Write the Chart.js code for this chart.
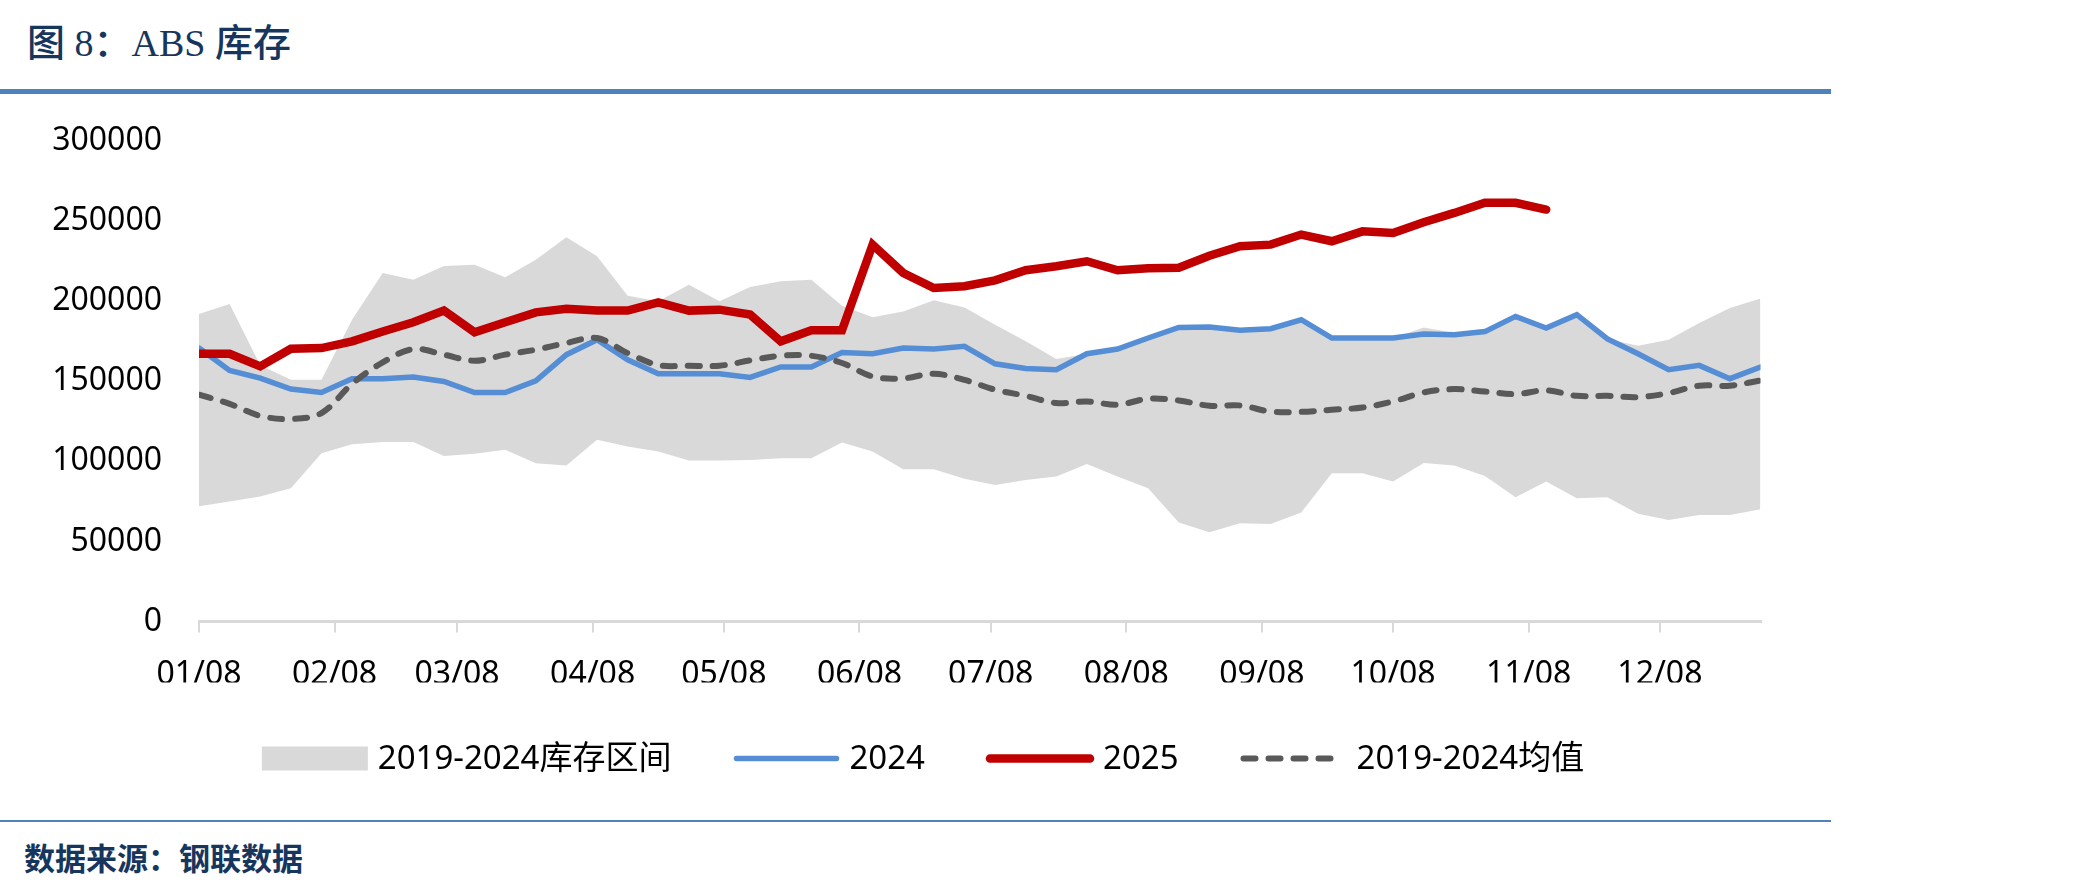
<!DOCTYPE html>
<html>
<head>
<meta charset="utf-8">
<script src="https://cdn.jsdelivr.net/npm/chart.js@4.4.1/dist/chart.umd.min.js"></script>
<style>
  body { margin: 0; background: #fff; width: 2083px; height: 888px; position: relative; overflow: hidden; }
  #title { position: absolute; left: 27px; top: 19px; font: 500 38px "Liberation Serif", "Noto Sans CJK SC"; color: #17365D; line-height: 48px; white-space: nowrap; }
  #topRule { position: absolute; left: 0; top: 89px; width: 1831px; height: 5px; background: #4F81BD; }
  #bottomRule { position: absolute; left: 0; top: 820px; width: 1831px; height: 2px; background: #4F81BD; }
  #source { position: absolute; left: 24px; top: 837px; font: bold 31px "Noto Sans CJK SC"; color: #17365D; line-height: 40px; white-space: nowrap; }
  #wrap { position: absolute; left: 0; top: 100px; width: 1800px; height: 715px; }
  #chart { display: block; }
</style>
</head>
<body>
<div id="title">图 8：ABS 库存</div>
<div id="topRule"></div>
<div id="wrap"><canvas id="chart" width="1800" height="715"></canvas></div>
<div id="bottomRule"></div>
<div id="source">数据来源：钢联数据</div>
<script>
// weekly dates (2025)
const weekDates = [
  '01-08','01-15','01-22','01-29','02-05','02-12','02-19','02-26',
  '03-05','03-12','03-19','03-26','04-02','04-09','04-16','04-23','04-30',
  '05-07','05-14','05-21','05-28','06-04','06-11','06-18','06-25',
  '07-02','07-09','07-16','07-23','07-30','08-06','08-13','08-20','08-27',
  '09-03','09-10','09-17','09-24','10-01','10-08','10-15','10-22','10-29',
  '11-05','11-12','11-19','11-26','12-03','12-10','12-17','12-24','12-31'
];
const tickLabels = ['01/08','02/08','03/08','04/08','05/08','06/08','07/08','08/08','09/08','10/08','11/08','12/08'];

// 2019-2024 range
const rangeLow = [
  72000, 74900, 78000, 83200, 105100, 110700, 112000, 112000, 103400, 104700,
  107200, 98800, 97400, 113400, 109300, 106100, 100500, 100500, 100900, 102000,
  102000, 111800, 106100, 95100, 95100, 89200, 85300, 88400, 90500, 98400,
  90500, 83200, 61800, 55700, 61400, 60900, 68000, 92600, 92600, 87400,
  98900, 97400, 90900, 77600, 87400, 77000, 77600, 67200, 63400, 66500,
  66500, 70100
];
const rangeHigh = [
  192000, 198200, 160000, 150900, 150900, 188400, 217600, 213400, 222000, 222800,
  214900, 225900, 239900, 228000, 203400, 200000, 210300, 199900, 208900, 212400,
  213400, 197200, 189900, 193600, 200500, 196000, 185300, 174900, 163900, 167200,
  170100, 177000, 183600, 183900, 181800, 182800, 188400, 177000, 177000, 177000,
  183600, 180100, 181000, 190500, 183200, 191600, 176400, 172200, 175900, 186400,
  195700, 201600
];
const inv2024 = [
  170700, 156800, 152000, 145100, 143000, 151600, 151600, 152600, 149900, 143000,
  143000, 150300, 166600, 175900, 163400, 154700, 154700, 154700, 152400, 158900,
  158900, 168000, 167200, 170700, 170100, 171800, 160900, 158000, 157200, 167200,
  170100, 177000, 183600, 183900, 181800, 182800, 188400, 177000, 177000, 177000,
  179500, 179100, 181000, 190500, 183200, 191600, 176400, 167200, 157200, 159900,
  151600, 158900
];
const inv2025 = [
  167200, 167200, 159300, 170300, 170700, 174900, 181100, 186800, 194100, 180600,
  186800, 193000, 195300, 194100, 194100, 199300, 194100, 194700, 191600, 174900,
  181800, 181800, 235300, 217600, 208200, 209300, 213000, 219300, 221800, 224900,
  219300, 220500, 220900, 228400, 234300, 235300, 241600, 237400, 243600, 242600,
  249300, 255100, 261400, 261400, 257200
];
const avg2019to2024 = [
  141600, 135900, 128400, 126400, 130100, 148400, 161800, 170100, 166600, 162800,
  166600, 169700, 173900, 177000, 167600, 160100, 159700, 159700, 163000, 165900,
  165900, 161400, 153000, 151800, 154700, 150900, 144700, 140900, 136400, 137400,
  135300, 139100, 138000, 134700, 134900, 131100, 130900, 132200, 133600, 137400,
  143000, 145100, 143600, 142000, 144300, 140900, 140900, 140100, 142600, 147200,
  147200, 150500
];

// days since 01-08
function dayOf(md) {
  const [m, d] = md.split(/[-\/]/).map(Number);
  return (Date.UTC(2025, m - 1, d) - Date.UTC(2025, 0, 8)) / 86400000;
}
const xs = weekDates.map(dayOf);
const tickDays = tickLabels.map(dayOf);
const pts = arr => arr.map((v, i) => ({ x: xs[i], y: v }));

const fontFamily = '"Noto Sans", "Noto Sans CJK SC", sans-serif';

// legend drawn centred under the plot like the original
const bottomLegend = {
  id: 'bottomLegend',
  afterDraw(chart, args, opts) {
    const ctx = chart.ctx;
    const items = chart.data.datasets.filter(ds => ds.label);
    ctx.save();
    ctx.font = opts.fontSize + 'px ' + fontFamily;
    ctx.textBaseline = 'middle';
    const widths = items.map(ds => opts.swatch + opts.gap + ctx.measureText(ds.label).width);
    const total = widths.reduce((a, b) => a + b, 0) + opts.spacing * (items.length - 1);
    let x = opts.centerX - total / 2;
    const y = opts.centerY;
    items.forEach((ds, i) => {
      if (ds.legendStyle === 'rect') {
        ctx.fillStyle = ds.backgroundColor;
        ctx.fillRect(x, y - 12, opts.swatch, 24);
      } else {
        ctx.strokeStyle = ds.borderColor;
        ctx.lineWidth = ds.borderWidth;
        ctx.lineCap = 'round';
        ctx.setLineDash(ds.borderDash || []);
        ctx.beginPath();
        ctx.moveTo(x + 3, y);
        ctx.lineTo(x + opts.swatch - 3, y);
        ctx.stroke();
        ctx.setLineDash([]);
      }
      ctx.fillStyle = '#000';
      ctx.fillText(ds.label, x + opts.swatch + opts.gap, y + 1);
      x += widths[i] + opts.spacing;
    });
    ctx.restore();
  }
};

const ctx = document.getElementById('chart').getContext('2d');
const chart = new Chart(ctx, {
  type: 'line',
  data: {
    datasets: [
      { label: '', data: pts(rangeLow), borderWidth: 0, pointRadius: 0, fill: false, order: 10 },
      { label: '2019-2024库存区间', data: pts(rangeHigh), backgroundColor: '#D9D9D9', borderColor: '#D9D9D9',
        borderWidth: 0, pointRadius: 0, fill: '-1', order: 9, legendStyle: 'rect' },
      { label: '2024', data: pts(inv2024), borderColor: '#558ED5', backgroundColor: '#558ED5',
        borderWidth: 5.5, pointRadius: 0, borderCapStyle: 'round', fill: false, order: 4 },
      { label: '2025', data: pts(inv2025), borderColor: '#C00000', backgroundColor: '#C00000',
        borderWidth: 8.5, pointRadius: 0, borderCapStyle: 'round', fill: false, order: 3 },
      { label: '2019-2024均值', data: pts(avg2019to2024), borderColor: '#595959', backgroundColor: '#595959',
        borderWidth: 6, borderDash: [12, 13], borderCapStyle: 'round', tension: 0.35, pointRadius: 0,
        fill: false, order: 2 }
    ]
  },
  plugins: [bottomLegend],
  options: {
    responsive: false,
    devicePixelRatio: 1,
    animation: false,
    layout: { padding: { top: 41, right: 39.5, bottom: 132.5, left: 0 } },
    plugins: {
      tooltip: { enabled: false },
      legend: { display: false },
      bottomLegend: { centerX: 923, centerY: 658.5, swatch: 106, gap: 10, spacing: 62, fontSize: 33 }
    },
    scales: {
      x: {
        type: 'linear',
        bounds: 'data',
        min: 0,
        max: 357,
        grid: { drawOnChartArea: false, drawTicks: true, tickLength: 11, color: '#D9D9D9', lineWidth: 2 },
        border: { display: true, color: '#D9D9D9', width: 3 },
        ticks: {
          autoSkip: false, maxRotation: 0, minRotation: 0, padding: 23, color: '#000',
          font: { size: 32, family: fontFamily },
          callback: v => { const k = tickDays.indexOf(v); return k >= 0 ? tickLabels[k] : ''; }
        },
        afterBuildTicks: s => { s.ticks = tickDays.map(v => ({ value: v })); },
        afterFit: s => { s.height = 61; }
      },
      y: {
        min: 0,
        max: 300000,
        grid: { display: false, drawTicks: true, tickLength: 37 },
        border: { display: false },
        ticks: {
          stepSize: 50000, padding: 0, color: '#000',
          font: { size: 32, family: fontFamily },
          callback: v => String(v)
        },
        afterFit: s => { s.width = 199; }
      }
    }
  }
});
</script>
</body>
</html>
